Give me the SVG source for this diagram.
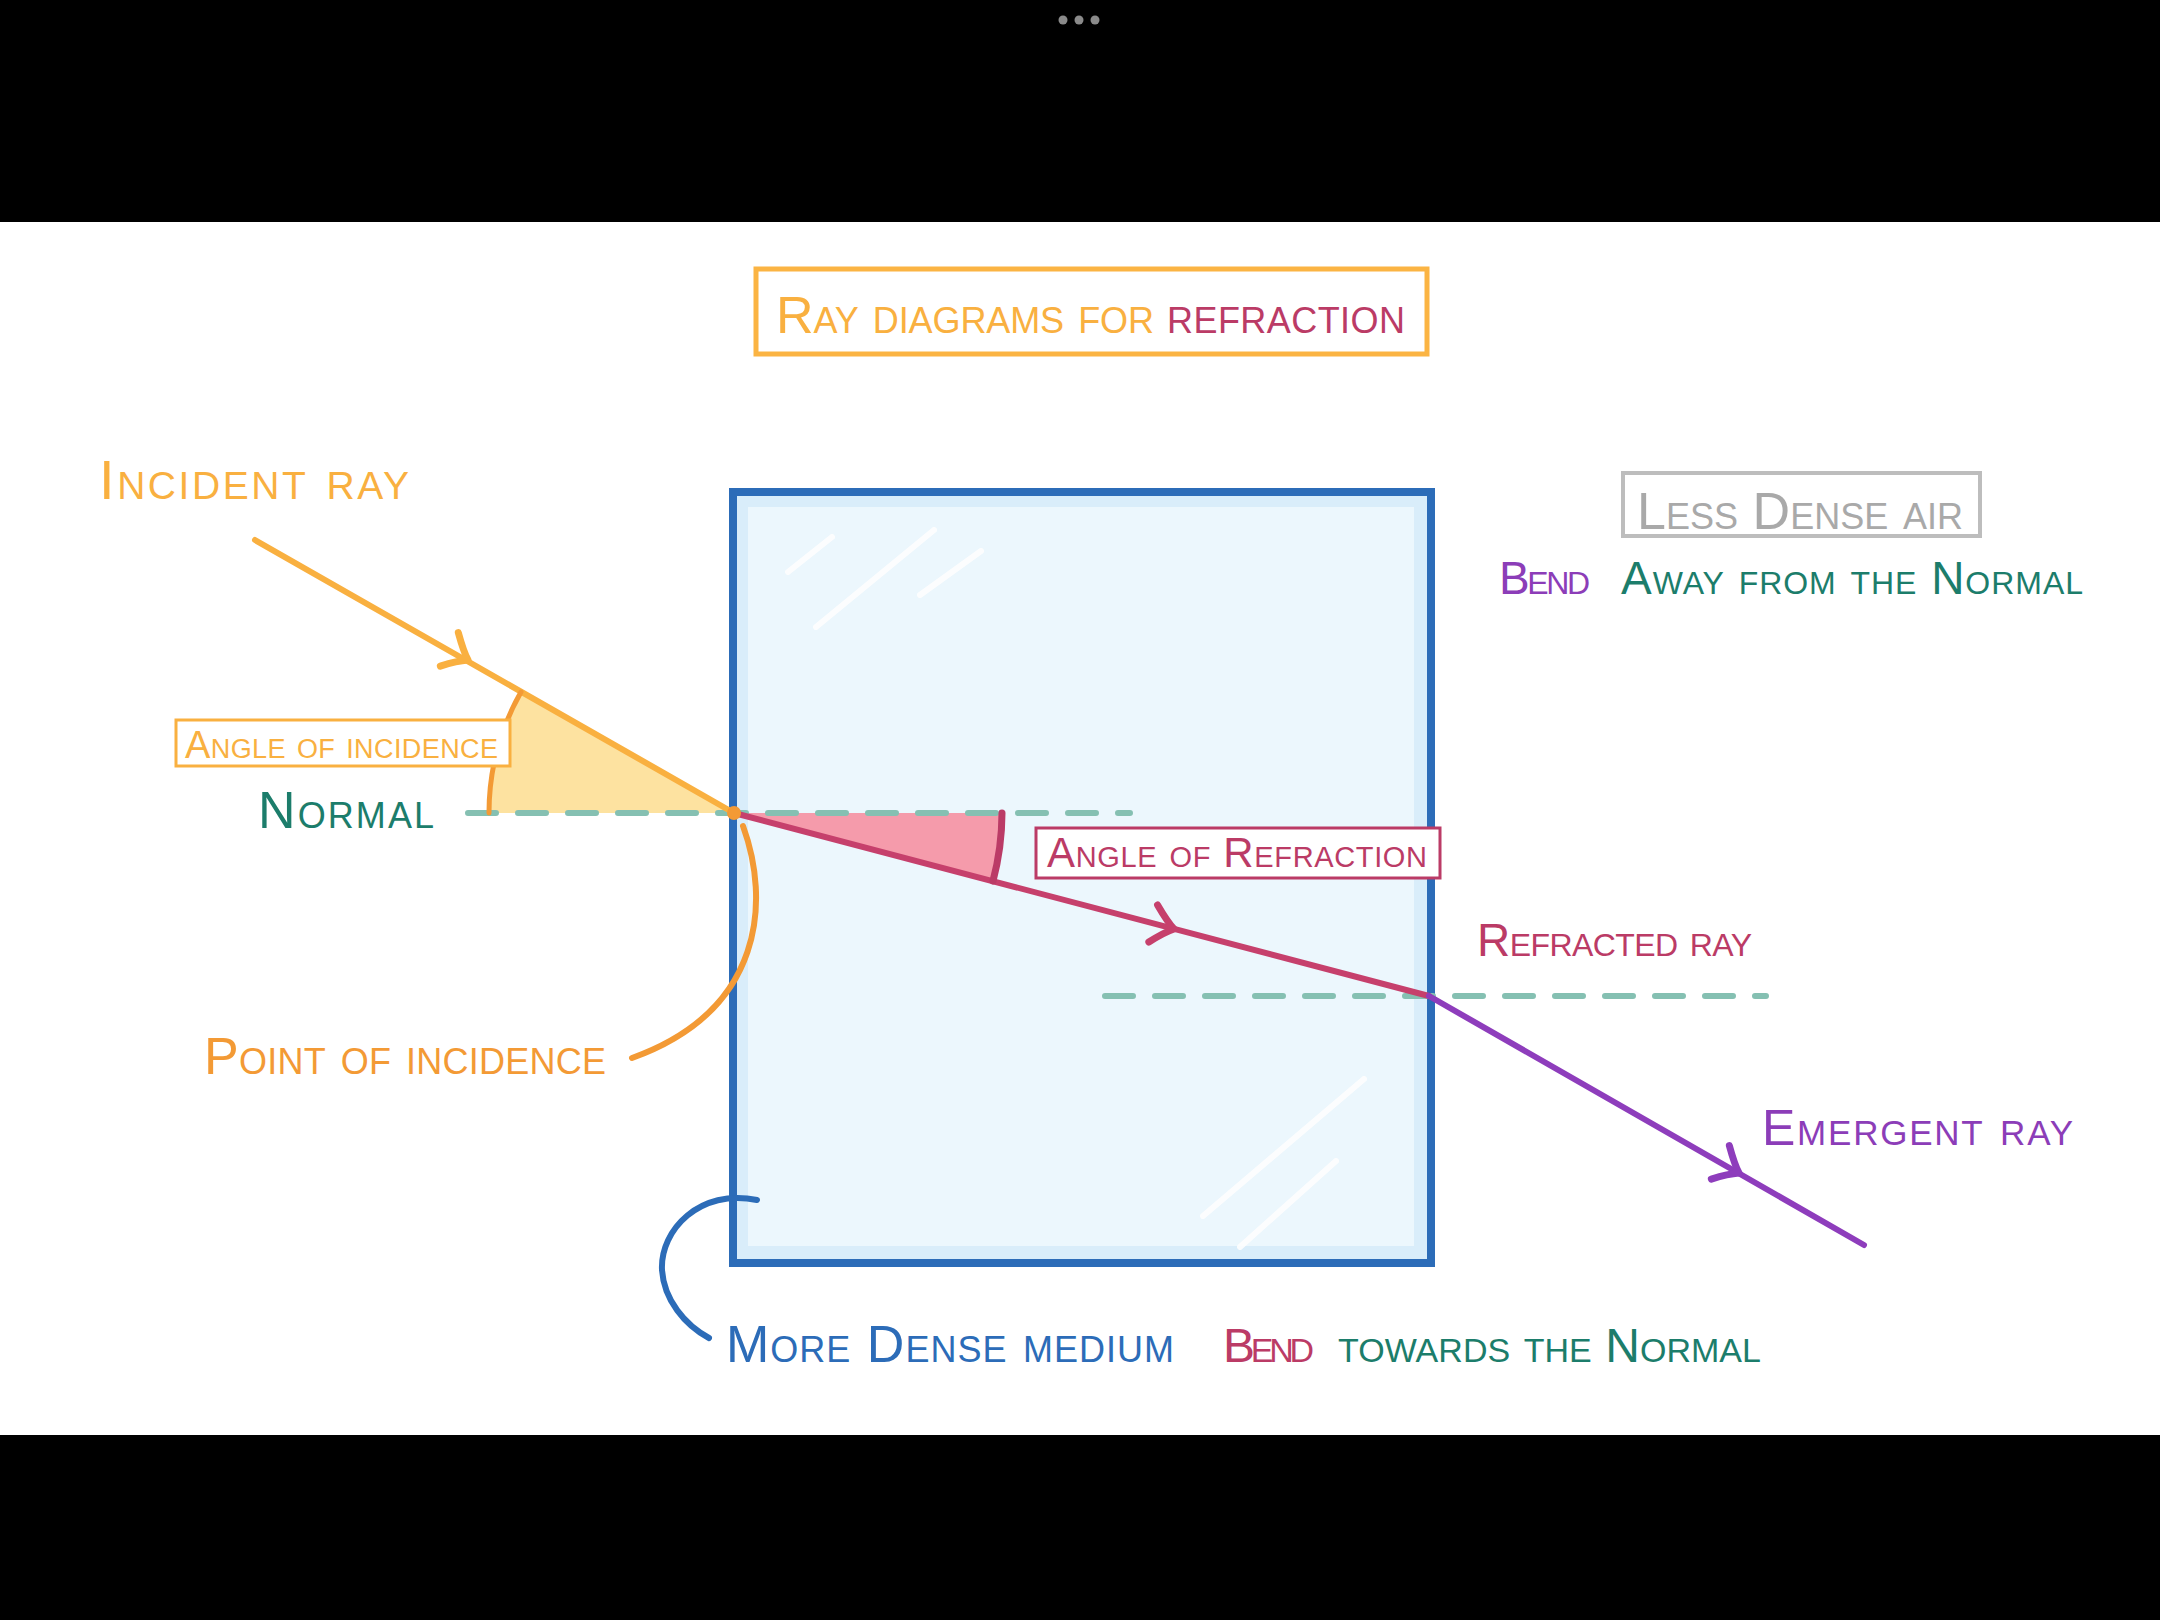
<svg xmlns="http://www.w3.org/2000/svg" xmlns:xlink="http://www.w3.org/1999/xlink" width="2160" height="1620" viewBox="0 0 2160 1620">
<style>
text{font-family:"Liberation Sans","Open Sans",sans-serif;font-variant:small-caps;}
.orange{fill:#F9B040;}
.dorange{fill:#F39A35;}
.teal{fill:#1C7D6B;}
.crimson{fill:#BB3B66;}
.purple{fill:#8C3DB8;}
.blue{fill:#2C6CB8;}
.gray{fill:#A9A9A9;}
.ray{fill:none;stroke-width:6;stroke-linecap:round;}
.normal{fill:none;stroke:#85C0B2;stroke-width:6;stroke-linecap:round;stroke-dasharray:28 22;}
.lbl{fill:#fff;stroke-width:3;}
.hl{stroke:#fff;stroke-width:6;stroke-linecap:round;opacity:0.85;}
</style>
<defs>
<path id="chev" d="M-22,-19 Q-8,-5 0,0 Q-9,6 -21,19" fill="none" stroke-width="7" stroke-linecap="round" stroke-linejoin="round"/>
</defs>
<rect x="0" y="0" width="2160" height="1620" fill="#000"/>
<rect x="0" y="222" width="2160" height="1213" fill="#fff"/>
<g id="dots" fill="#8a8a8a">
<circle cx="1063" cy="20" r="4.5"/><circle cx="1079" cy="20" r="4.5"/><circle cx="1095" cy="20" r="4.5"/>
</g>

<g id="title">
<rect x="756" y="269" width="671" height="85" fill="#fff" stroke="#FBB443" stroke-width="5"/>
<text x="776" y="333" font-size="52" class="orange" textLength="378">Ray diagrams for</text>
<text x="1167" y="333" font-size="52" class="crimson" textLength="238">refraction</text>
</g>

<g id="glass-block">
<rect x="733" y="492" width="698" height="771" fill="#D9EDFA"/>
<rect x="748" y="507" width="666" height="739" fill="#ECF7FD"/>
<line class="hl" x1="788" y1="572" x2="832" y2="537"/>
<line class="hl" x1="816" y1="627" x2="934" y2="530"/>
<line class="hl" x1="920" y1="595" x2="981" y2="551"/>
<line class="hl" x1="1203" y1="1216" x2="1364" y2="1079"/>
<line class="hl" x1="1240" y1="1247" x2="1336" y2="1161"/>
<rect x="733" y="492" width="698" height="771" fill="none" stroke="#2C6CB8" stroke-width="8"/>
</g>

<g id="angle-incidence-wedge">
<path d="M734,813 L489,813 A245,245 0 0 1 521,692 Z" fill="#FDE2A0"/>
</g>
<g id="angle-refraction-wedge">
<path d="M734,813 L1002,813 A268,268 0 0 1 993,881 Z" fill="#F59BAB"/>
</g>

<g id="connectors">
<line class="normal" x1="468" y1="813" x2="1130" y2="813"/>
<line class="normal" x1="1105" y1="996" x2="1766" y2="996"/>
<line class="ray" stroke="#F9B040" x1="255" y1="540" x2="734" y2="813"/>
<use xlink:href="#chev" href="#chev" stroke="#F9B040" transform="translate(468,660) rotate(29.7)"/>
<line class="ray" stroke="#C6406C" x1="734" y1="813" x2="1429" y2="996"/>
<use xlink:href="#chev" href="#chev" stroke="#C6406C" transform="translate(1174,929) rotate(14.75)"/>
<line class="ray" stroke="#8E3DBC" x1="1429" y1="996" x2="1864" y2="1245"/>
<use xlink:href="#chev" href="#chev" stroke="#8E3DBC" transform="translate(1739,1173) rotate(29.8)"/>
<path d="M489,813 A245,245 0 0 1 521,692" fill="none" stroke="#F39A35" stroke-width="5" stroke-linecap="round"/>
<path d="M1002,813 A268,268 0 0 1 993,881" fill="none" stroke="#BB3B66" stroke-width="7" stroke-linecap="round"/>
<path d="M743,826 C770,900 765,1010 632,1058" fill="none" stroke="#F39A35" stroke-width="6" stroke-linecap="round"/>
<path d="M757,1200 C700,1188 660,1230 662,1270 C664,1300 685,1325 709,1338" fill="none" stroke="#2C6CB8" stroke-width="6" stroke-linecap="round"/>
<circle cx="734" cy="813" r="7" fill="#F39A35"/>
</g>

<g id="incident-ray-label">
<text x="99" y="499" font-size="56" class="orange" textLength="310">Incident ray</text>
</g>
<g id="angle-of-incidence">
<rect class="lbl" x="176" y="720" width="334" height="46" stroke="#F9B040"/>
<text x="185" y="758" font-size="38" class="orange" textLength="313">Angle of incidence</text>
</g>
<g id="normal-label">
<text x="258" y="828" font-size="52" class="teal" textLength="176">Normal</text>
</g>
<g id="angle-of-refraction">
<rect class="lbl" x="1036" y="828" width="404" height="50" stroke="#BB3B66"/>
<text x="1047" y="867" font-size="42" class="crimson" textLength="380">Angle of Refraction</text>
</g>
<g id="point-of-incidence">
<text x="204" y="1074" font-size="52" class="dorange" textLength="402">Point of incidence</text>
</g>
<g id="refracted-ray-label">
<text x="1477" y="956" font-size="46" class="crimson" textLength="275">Refracted ray</text>
</g>
<g id="emergent-ray-label">
<text x="1762" y="1145" font-size="50" class="purple" textLength="311">Emergent ray</text>
</g>
<g id="less-dense-air">
<rect x="1623" y="473" width="357" height="63" fill="#fff" stroke="#BDBDBD" stroke-width="4"/>
<text x="1637" y="529" font-size="52" class="gray" textLength="326">Less Dense air</text>
</g>
<g id="bend-away">
<text x="1499" y="594" font-size="46" class="purple" textLength="91">Bend</text>
<text x="1621" y="594" font-size="46" class="teal" textLength="462">Away from the Normal</text>
</g>
<g id="more-dense-medium">
<text x="726" y="1362" font-size="52" class="blue" textLength="448">More Dense medium</text>
</g>
<g id="bend-towards">
<text x="1223" y="1362" font-size="48" class="crimson" textLength="91">Bend</text>
<text x="1338" y="1362" font-size="48" class="teal" textLength="423">towards the Normal</text>
</g>
</svg>
